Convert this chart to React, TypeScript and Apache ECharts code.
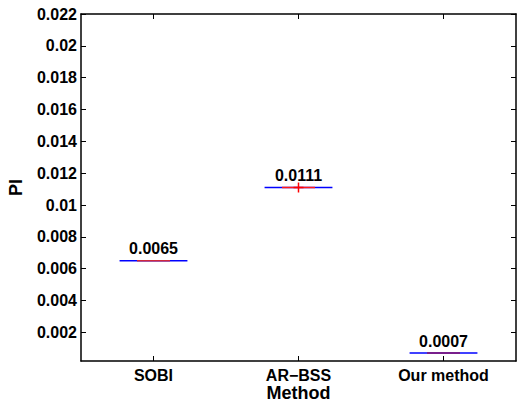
import React, { useEffect, useRef } from "react";
import * as echarts from "echarts";

const categories = ["SOBI", "AR−BSS", "Our method"];
const piValues = [0.0065, 0.0111, 0.0007];
const valueLabels = ["0.0065", "0.0111", "0.0007"];
const outlierIndex = [1];
const yTicks = [0.002, 0.004, 0.006, 0.008, 0.01, 0.012, 0.014, 0.016, 0.018, 0.02, 0.022];
const yMin = 0.0002;
const yMax = 0.022;

const medianColors = ["#d0283c", "#ff1a1a", "#8b1466"];
const FONT = "Liberation Sans, Arial, sans-serif";

export default function App() {
  const ref = useRef<HTMLDivElement>(null);
  useEffect(() => {
    if (!ref.current) return;
    const chart = echarts.init(ref.current, null, { renderer: "svg" });
    const axisLineStyle = { color: "#000", width: 1.5 };
    const option: any = {
      animation: false,
      backgroundColor: "#fff",
      grid: { left: 81, right: 2, top: 14, bottom: 41, containLabel: false, outerBoundsMode: "none" },
      xAxis: [
        {
          type: "category",
          data: categories,
          position: "bottom",
          axisLine: { show: true, lineStyle: axisLineStyle },
          axisTick: { show: true, alignWithLabel: true, inside: true, length: 5, lineStyle: { color: "#000", width: 1 } },
          axisLabel: { color: "#000", fontFamily: FONT, fontWeight: "bold", fontSize: 16, margin: 6 },
          splitLine: { show: false },
          name: "Method",
          nameLocation: "middle",
          nameGap: 23,
          nameMoveOverlap: false,
          nameTextStyle: { color: "#000", fontFamily: FONT, fontWeight: "bold", fontSize: 18, lineHeight: 18 },
        },
        {
          type: "category",
          data: categories,
          position: "top",
          axisLine: { show: true, lineStyle: axisLineStyle },
          axisTick: { show: true, alignWithLabel: true, inside: true, length: 5, lineStyle: { color: "#000", width: 1 } },
          axisLabel: { show: false },
          splitLine: { show: false },
        },
      ],
      yAxis: [
        {
          type: "value",
          min: yMin,
          max: yMax,
          position: "left",
          axisLine: { show: true, lineStyle: axisLineStyle },
          axisTick: { show: true, inside: true, length: 5, customValues: yTicks, lineStyle: { color: "#000", width: 1 } },
          axisLabel: {
            customValues: yTicks,
            color: "#000",
            fontFamily: FONT,
            fontWeight: "bold",
            fontSize: 16,
            margin: 4,
            formatter: (v: number) => String(parseFloat(v.toFixed(4))),
          },
          splitLine: { show: false },
          name: "PI",
          nameLocation: "middle",
          nameGap: 56,
          nameMoveOverlap: false,
          nameTextStyle: { color: "#000", fontFamily: FONT, fontWeight: "bold", fontSize: 18 },
        },
        {
          type: "value",
          min: yMin,
          max: yMax,
          position: "right",
          axisLine: { show: true, lineStyle: axisLineStyle },
          axisTick: { show: true, inside: true, length: 5, customValues: yTicks, lineStyle: { color: "#000", width: 1 } },
          axisLabel: { show: false },
          splitLine: { show: false },
        },
      ],
      series: [
        {
          type: "custom",
          xAxisIndex: 0,
          yAxisIndex: 0,
          data: categories.map((_, i) => [i, piValues[i]]),
          renderItem: (params: any, api: any) => {
            const i = api.value(0);
            const v = api.value(1);
            const c = api.coord([i, v]);
            const band = api.size([1, 0])[0];
            const half = band * 0.234;
            const mHalf = band * 0.114;
            return {
              type: "group",
              children: [
                {
                  type: "line",
                  shape: { x1: c[0] - half, y1: c[1], x2: c[0] + half, y2: c[1] },
                  style: { stroke: "#0000ff", lineWidth: 1.5 },
                },
                {
                  type: "line",
                  shape: { x1: c[0] - mHalf, y1: c[1], x2: c[0] + mHalf, y2: c[1] },
                  style: { stroke: medianColors[i], lineWidth: 1.5 },
                },
                {
                  type: "text",
                  x: c[0],
                  y: c[1] - 4,
                  style: {
                    text: valueLabels[i],
                    align: "center",
                    verticalAlign: "bottom",
                    textAlign: "center",
                    textVerticalAlign: "bottom",
                    fill: "#000",
                    font: "bold 16px " + FONT,
                  },
                },
              ],
            };
          },
        },
        {
          type: "custom",
          xAxisIndex: 0,
          yAxisIndex: 0,
          data: outlierIndex.map((i) => [i, piValues[i]]),
          renderItem: (params: any, api: any) => {
            const c = api.coord([api.value(0), api.value(1)]);
            const s = 5;
            return {
              type: "group",
              children: [
                { type: "line", shape: { x1: c[0] - s, y1: c[1], x2: c[0] + s, y2: c[1] }, style: { stroke: "#ff0000", lineWidth: 1.5 } },
                { type: "line", shape: { x1: c[0], y1: c[1] - s, x2: c[0], y2: c[1] + s }, style: { stroke: "#ff0000", lineWidth: 1.5 } },
              ],
            };
          },
        },
      ],
    };
    chart.setOption(option);
    return () => chart.dispose();
  }, []);
  return (
    <div
      ref={ref}
      style={{ position: "absolute", left: 0, top: 0, width: 518, height: 402, background: "#fff" }}
    />
  );
}
